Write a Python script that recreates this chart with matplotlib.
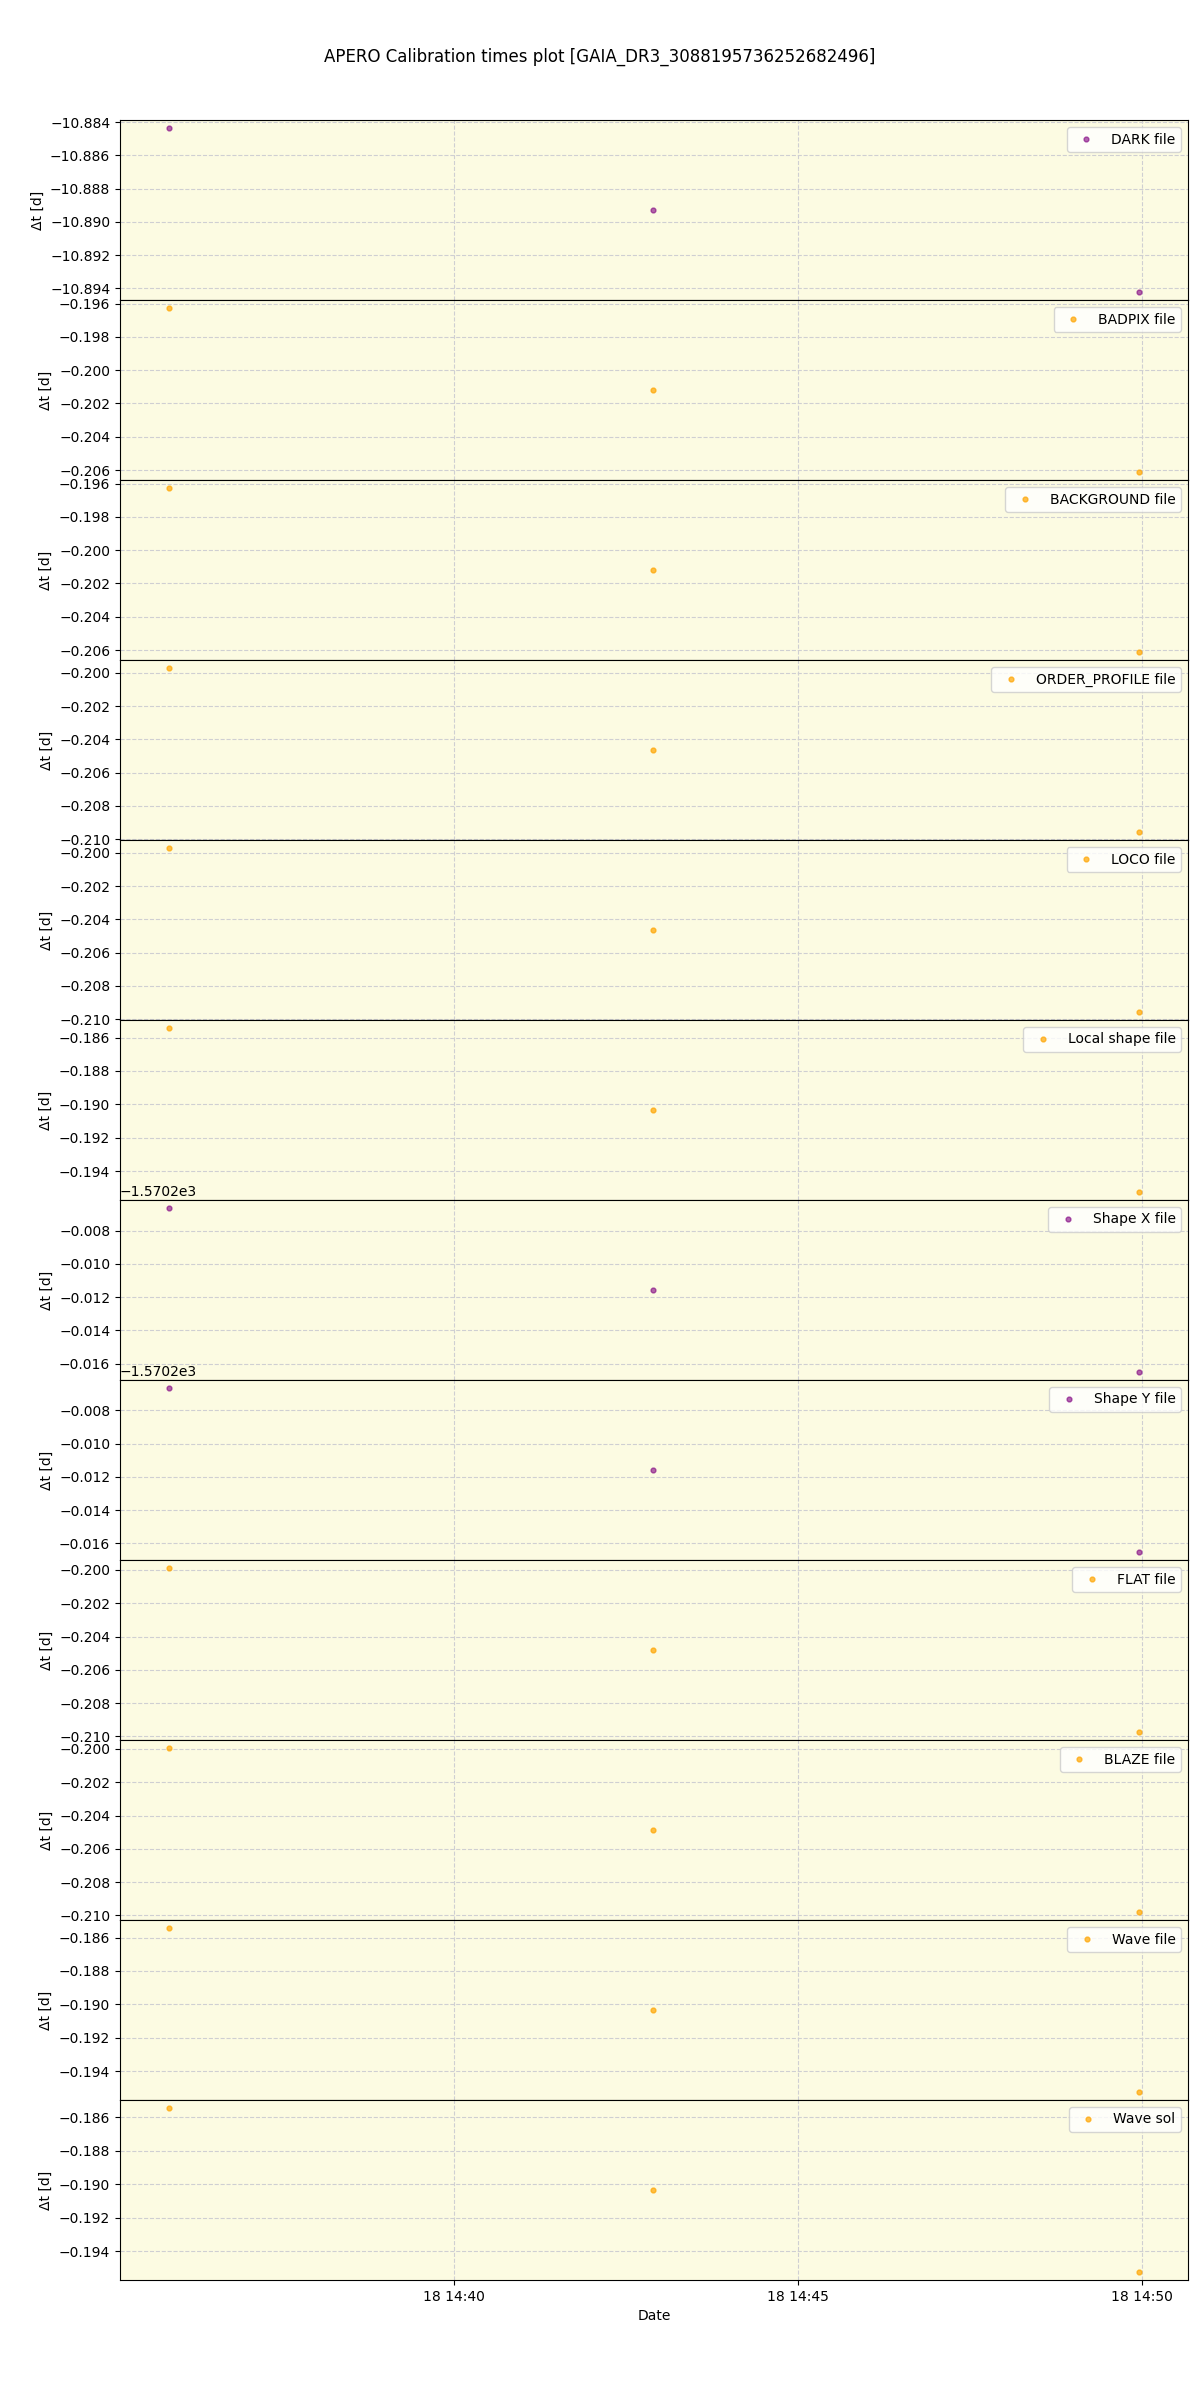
import matplotlib
matplotlib.use("Agg")
import matplotlib.pyplot as plt
import matplotlib.dates as mdates
import numpy as np
from datetime import datetime

title = "APERO Calibration times plot [GAIA_DR3_3088195736252682496]"

obs_times = ["2023-03-18 14:35:51", "2023-03-18 14:42:54", "2023-03-18 14:49:58"]

labels = ["DARK file", "BADPIX file", "BACKGROUND file", "ORDER_PROFILE file",
          "LOCO file", "Local shape file", "Shape X file", "Shape Y file",
          "FLAT file", "BLAZE file", "Wave file", "Wave sol"]

dark = [-10.88436, -10.88928, -10.89420]
badpix = [-0.19628, -0.20118, -0.20610]
background = [-0.19628, -0.20118, -0.20610]
order_profile = [-0.19972, -0.20462, -0.20956]
loco = [-0.19972, -0.20462, -0.20956]
local_shape = [-0.18544, -0.19034, -0.19524]
shape_x = [-1570.20666, -1570.21156, -1570.21648]
shape_y = [-1570.20668, -1570.21160, -1570.21650]
flat = [-0.19990, -0.20480, -0.20972]
blaze = [-0.19996, -0.20488, -0.20978]
wave_file = [-0.18544, -0.19034, -0.19524]
wave_sol = [-0.18547, -0.19034, -0.19521]

series = [dark, badpix, background, order_profile, loco, local_shape,
          shape_x, shape_y, flat, blaze, wave_file, wave_sol]
colors = ["purple", "orange", "orange", "orange", "orange", "orange",
          "purple", "purple", "orange", "orange", "orange", "orange"]

x = [datetime.strptime(t, "%Y-%m-%d %H:%M:%S") for t in obs_times]

fig, axes = plt.subplots(len(series), 1, figsize=(12, 24), dpi=100, sharex=True)
fig.subplots_adjust(left=0.1, right=0.99, top=0.95, bottom=0.05, hspace=0)

for ax, vals, lab, col in zip(axes, series, labels, colors):
    ax.set_facecolor("#fcfbe2")
    a = 0.6 if col == "purple" else 0.7
    ax.plot(x, vals, "o", color=col, alpha=a, ms=3.5, label=lab)
    ax.grid(True, linestyle="--", color="#cfcfd2", alpha=1.0)
    ax.set_ylabel("Δt [d]")
    ax.legend(loc="upper right")

axes[-1].set_xlabel("Date")
axes[-1].xaxis.set_major_locator(mdates.MinuteLocator(byminute=range(0, 60, 5)))
axes[-1].xaxis.set_major_formatter(mdates.DateFormatter("%d %H:%M"))

fig.suptitle(title, fontsize=12)
fig.savefig("out.png")
